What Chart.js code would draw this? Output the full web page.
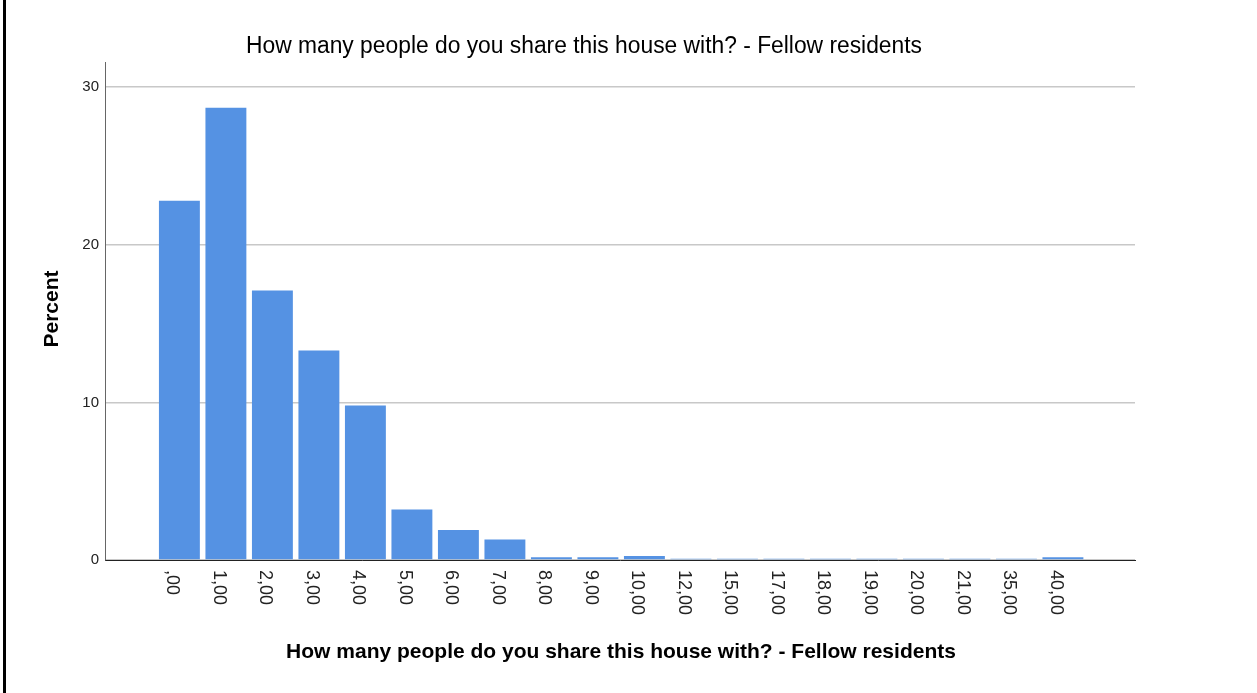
<!DOCTYPE html>
<html>
<head>
<meta charset="utf-8">
<script src="https://cdn.jsdelivr.net/npm/chart.js@4"></script>
<style>
  html, body { margin: 0; padding: 0; background: #fff; }
  #wrap { position: relative; width: 1257px; height: 693px; }
  #edge { position: absolute; left: 3px; top: 0; width: 3px; height: 693px; background: #000; }
</style>
</head>
<body>
<div id="wrap">
  <canvas id="histChart" width="1257" height="693"></canvas>
  <div id="edge"></div>
</div>
<script>
// fellow residents (category labels as printed by SPSS)
const categories = [",00", "1,00", "2,00", "3,00", "4,00", "5,00", "6,00", "7,00", "8,00", "9,00",
    "10,00", "12,00", "15,00", "17,00", "18,00", "19,00", "20,00", "21,00", "35,00", "40,00"];
// percent of respondents
const percents = [22.8, 28.7, 17.1, 13.3, 9.8, 3.2, 1.9, 1.3, 0.17, 0.17,
    0.25, 0.08, 0.08, 0.08, 0.08, 0.08, 0.08, 0.08, 0.08, 0.17];
const yTicks = [0, 10, 20, 30];

const chartTitle = "How many people do you share this house with? - Fellow residents";
const xTitle = "How many people do you share this house with? - Fellow residents";
const yTitle = "Percent";

document.addEventListener("DOMContentLoaded", () => {
    const ctx = document.getElementById('histChart');
    if (!ctx) return;

    // draws titles and the downward-reading category labels
    const textPlugin = {
        id: 'spssText',
        afterDraw(chart) {
            const c = chart.ctx;
            const x = chart.scales.x;
            c.save();
            c.fillStyle = "#000";
            c.textAlign = "center";
            c.textBaseline = "middle";

            c.font = "23px 'Liberation Sans', Arial, sans-serif";
            c.fillText(chartTitle, 584, 47, 676);

            c.font = "bold 21px 'Liberation Sans', Arial, sans-serif";
            c.fillText(xTitle, 621, 652, 675);

            c.save();
            c.translate(52, 309);
            c.rotate(-Math.PI / 2);
            c.fillText(yTitle, 0, 0);
            c.restore();

            c.fillStyle = "#222";
            c.font = "18px 'Liberation Sans', Arial, sans-serif";
            c.textAlign = "left";
            categories.forEach((lab, i) => {
                const px = x.getPixelForValue(i);
                c.save();
                c.translate(px - 7, 570);
                c.rotate(Math.PI / 2);
                c.fillText(lab, 0, 0);
                c.restore();
            });
            c.restore();
        }
    };

    new Chart(ctx, {
        type: 'bar',
        data: {
            datasets: [
                {
                    label: yTitle,
                    data: percents.map((v, i) => ({ x: i, y: v })),
                    backgroundColor: "#5592e3",
                    borderWidth: 0,
                    barPercentage: 0.88,
                    categoryPercentage: 1.0
                }
            ]
        },
        options: {
            responsive: false,
            animation: false,
            layout: { padding: { left: 0, right: 122, top: 62, bottom: 0 } },
            plugins: {
                legend: { display: false },
                tooltip: { enabled: false }
            },
            scales: {
                x: {
                    type: 'linear',
                    offset: false,
                    min: -1.6,
                    max: 20.55,
                    grid: { display: false, offset: false },
                    border: { display: true, color: "#222", width: 1 },
                    ticks: { display: false },
                    afterFit: (s) => { s.height = 133; }
                },
                y: {
                    min: 0,
                    max: 31.6,
                    afterBuildTicks: (s) => { s.ticks = yTicks.map(v => ({ value: v })); },
                    grid: { color: "#c8c8c8", lineWidth: 1.5, drawTicks: false },
                    border: { display: true, color: "#666", width: 1 },
                    ticks: {
                        color: "#222",
                        padding: 6,
                        font: { family: "'Liberation Sans', Arial, sans-serif", size: 15 }
                    },
                    afterFit: (s) => { s.width = 105; }
                }
            }
        },
        plugins: [textPlugin]
    });
});
</script>
</body>
</html>
